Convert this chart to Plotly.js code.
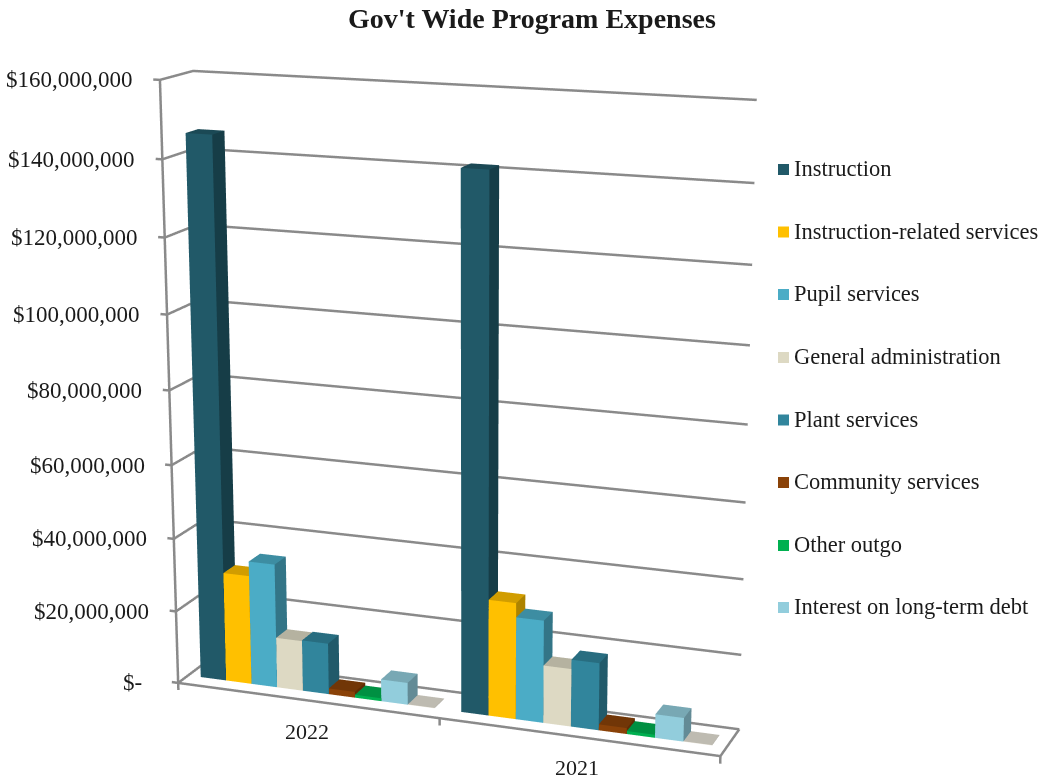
<!DOCTYPE html>
<html><head><meta charset="utf-8"><script src="https://cdn.plot.ly/plotly-3.0.1.min.js"></script>
<style>html,body{margin:0;padding:0;background:#fff;overflow:hidden;width:1042px;height:779px}#c{position:absolute;left:0;width:1042px}</style></head>
<body><div id="c"></div><script>
const years=['2022','2021'];
const seriesNames=['Instruction','Instruction-related services','Pupil services','General administration','Plant services','Community services','Other outgo','Interest on long-term debt',''];
const v2022=[146e6,30e6,34e6,13.8e6,14e6,1.6e6,0.8e6,6e6,0.1e6];
const v2021=[141.5e6,31.3e6,27.5e6,15.5e6,18e6,1.6e6,0.8e6,6.3e6,0.1e6];
const frontColors=['#215968','#ffc000','#4bacc6','#ddd9c3','#31859c','#8a4208','#00b050','#92cddc','#e8e4d8'];
const ticks=[0,20e6,40e6,60e6,80e6,100e6,120e6,140e6,160e6];
const tickText=['$-','$20,000,000','$40,000,000','$60,000,000','$80,000,000','$100,000,000','$120,000,000','$140,000,000','$160,000,000'];

// The 3D view uses a narrow field of view, so the plot is taller than the page and centred on it.
const H=2126, plotTop=(779-H)/2;
const box=document.getElementById('c');box.style.top=plotTop+'px';box.style.height=H+'px';
const py=y=>1-(y-plotTop)/H;

const shade=(hex,k)=>{const n=parseInt(hex.slice(1),16);return 'rgb('+[n>>16,(n>>8)&255,n&255].map(c=>Math.round(c*k)).join(',')+')';};
const traces=[];
const gap=0.1,d0=0.32,d1=0.70;
seriesNames.forEach((name,s)=>{
 const X=[],Y=[],Z=[],I=[],J=[],K=[],FC=[];
 [v2022[s],v2021[s]].forEach((val,c)=>{
  const a=c+(s+.5)*gap,b=a+gap,o=X.length;
  [[a,d0,0],[b,d0,0],[b,d1,0],[a,d1,0],[a,d0,val],[b,d0,val],[b,d1,val],[a,d1,val]].forEach(q=>{X.push(q[0]);Y.push(q[1]);Z.push(q[2]);});
  const tri=(q,w,e,col)=>{I.push(o+q);J.push(o+w);K.push(o+e);FC.push(col);};
  tri(0,1,5,frontColors[s]);tri(0,5,4,frontColors[s]);
  const side=shade(frontColors[s],.68),tp=shade(frontColors[s],.82);
  tri(1,2,6,side);tri(1,6,5,side);tri(4,5,6,tp);tri(4,6,7,tp);
 });
 traces.push({type:'mesh3d',x:X,y:Y,z:Z,i:I,j:J,k:K,facecolor:FC,flatshading:true,hoverinfo:'skip',name:name,
  lighting:{ambient:1,diffuse:0,specular:0,roughness:1,fresnel:0}});
});
const line={color:'#8a8a8a',width:5};
const gridX=[],gridY=[],gridZ=[];
ticks.forEach(z=>{gridX.push(-0.025,0,0,2,null);gridY.push(0,0,1,1,null);gridZ.push(z,z,z,z,null);});
traces.push({type:'scatter3d',mode:'lines',x:gridX,y:gridY,z:gridZ,line:line,hoverinfo:'skip',connectgaps:false});
traces.push({type:'scatter3d',mode:'lines',x:[0,0],y:[0,0],z:[0,160e6],line:line,hoverinfo:'skip'});
traces.push({type:'scatter3d',mode:'lines',x:[0,2,2],y:[0,0,1],z:[0,0,0],line:line,hoverinfo:'skip'});
[0,1,2].forEach(t=>traces.push({type:'scatter3d',mode:'lines',x:[t,t],y:[0,0],z:[0,-2e6],line:line,hoverinfo:'skip'}));

const sceneAnn=ticks.map((z,i)=>({x:0,y:0,z:z,text:tickText[i],showarrow:false,xanchor:'right',yanchor:'middle',xshift:z===0?-34:-25,font:{family:'Liberation Serif',size:23,color:'#1a1a1a'}}))
 .concat(years.map((t,i)=>({x:i+.5,y:0,z:0,text:t,showarrow:false,xanchor:'center',yanchor:'middle',yshift:-31,font:{family:'Liberation Serif',size:22,color:'#1a1a1a'}})));
const rowY=[169,231.5,294,357,419.5,482,545,607];
const ann=[{text:"<b>Gov't Wide Program Expenses</b>",xref:'paper',yref:'paper',x:532/1042,y:py(18),showarrow:false,xanchor:'center',yanchor:'middle',font:{family:'Liberation Serif',size:28,color:'#1a1a1a'}}];
const shapes=[];
rowY.forEach((y,i)=>{
 ann.push({text:seriesNames[i],xref:'paper',yref:'paper',x:792/1042,y:py(y-1),xanchor:'left',yanchor:'middle',showarrow:false,font:{family:'Liberation Serif',size:22.5,color:'#1a1a1a'}});
 shapes.push({type:'rect',xref:'paper',yref:'paper',x0:778/1042,x1:789/1042,y0:py(y-5.5),y1:py(y+5.5),fillcolor:frontColors[i],line:{width:0}});
});
Plotly.newPlot('c',traces,{margin:{l:0,r:0,t:0,b:0},width:1042,height:H,showlegend:false,annotations:ann,shapes:shapes,
 paper_bgcolor:'#fff',
 scene:{domain:{x:[0,1],y:[0,1]},aspectmode:'manual',aspectratio:{x:0.93765,y:0.1175,z:1.01852},annotations:sceneAnn,
 camera:{eye:{x:1.35917,y:-3.6054,z:1.02021},center:{x:-0.55973,y:1.9582,z:-0.49149},up:{x:-0.2516,y:0.7118,z:1}},
 xaxis:{visible:false,range:[-0.03,2.02]},yaxis:{visible:false,range:[-0.01,1.01]},zaxis:{visible:false,range:[-3e6,162e6]}}},{displayModeBar:false});
</script></body></html>
